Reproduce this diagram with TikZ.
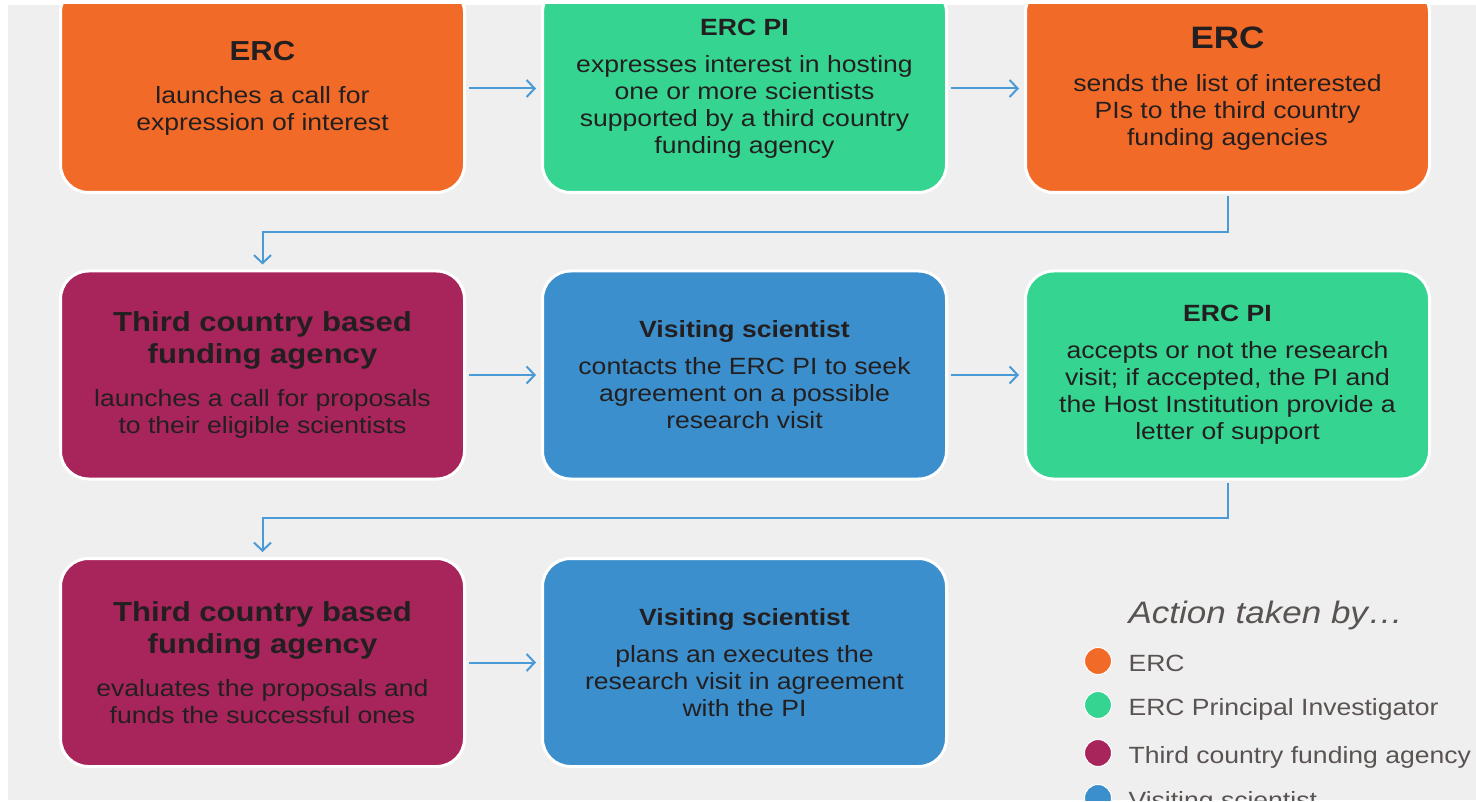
\documentclass[tikz,border=0pt]{standalone}
\usepackage{fontspec}
\setmainfont[FakeStretch=1.13]{Liberation Sans}
\usetikzlibrary{arrows.meta}

\definecolor{ercorange}{HTML}{F26A27}
\definecolor{pigreen}{HTML}{35D491}
\definecolor{agencyred}{HTML}{A8255C}
\definecolor{visitorblue}{HTML}{3B8FCC}
\definecolor{flowblue}{HTML}{4A9AD6}
\definecolor{bggrey}{HTML}{EFEFEF}
\definecolor{inkdark}{HTML}{231F20}
\definecolor{legendgrey}{HTML}{595352}

\newcommand{\fixspace}{\spaceskip=\fontdimen2\font\xspaceskip=\fontdimen2\font\relax}
\newcommand{\hugetitle}[1]{{\fontsize{31}{35}\selectfont\bfseries\fixspace #1\par}\vspace{16pt}}
\newcommand{\bigtitle}[1]{{\fontsize{27.5}{32}\selectfont\bfseries\fixspace #1\par}\vspace{16pt}}
\newcommand{\smalltitle}[1]{{\fontsize{23.5}{27}\selectfont\bfseries\fixspace #1\par}\vspace{10pt}}
\newcommand{\bodytext}[1]{{\fontsize{23.5}{27}\selectfont\fixspace #1\par}}

\begin{document}
\begin{tikzpicture}[x=1pt,y=-1pt,
    stepbox/.style={rounded corners=28pt, draw=white, line width=3pt,
        minimum width=404pt, minimum height=208pt, text width=390pt,
        align=center, inner sep=0pt, text=inkdark, font=\fontsize{23.5}{27}\selectfont},
    flow/.style={draw=flowblue, line width=2pt, -{Straight Barb[length=8pt,width=17pt]},
        shorten <=2.5pt, shorten >=5pt},
    dot/.style={circle, draw=white, line width=1pt, minimum size=27pt, inner sep=0pt},
    legendtext/.style={anchor=base west, text=legendgrey, font=\fontsize{23.5}{27}\selectfont}]

\useasboundingbox (0,0) rectangle (1476,802);
\fill[white] (0,0) rectangle (1476,802);
\fill[bggrey] (8,5) rectangle (1476,800);

\begin{scope}
\clip (8,5) rectangle (1476,800);

	\node[stepbox, fill=ercorange] (erc) at (262.5,88.5)
		{\bigtitle{ERC}\bodytext{launches a call for\\expression of interest}};
	\node[stepbox, fill=pigreen] (pi) at (744.5,88.5)
		{\smalltitle{ERC PI}\bodytext{expresses interest in hosting\\one or more scientists\\supported by a third country\\funding agency}};
	\node[stepbox, fill=ercorange] (ercsend) at (1227.5,88.5)
		{\hugetitle{ERC}\bodytext{sends the list of interested\\PIs to the third country\\funding agencies}};

	\node[stepbox, fill=agencyred] (agency) at (262.5,375)
		{\bigtitle{Third country based\\funding agency}\bodytext{launches a call for proposals\\to their eligible scientists}};
	\node[stepbox, fill=visitorblue] (visitor) at (744.5,375)
		{\smalltitle{Visiting scientist}\bodytext{contacts the ERC PI to seek\\agreement on a possible\\research visit}};
	\node[stepbox, fill=pigreen] (piaccept) at (1227.5,375)
		{\smalltitle{ERC PI}\bodytext{accepts or not the research\\visit; if accepted, the PI and\\the Host Institution provide a\\letter of support}};

	\node[stepbox, fill=agencyred] (agencyeval) at (262.5,662.5)
		{\bigtitle{Third country based\\funding agency}\bodytext{evaluates the proposals and\\funds the successful ones}};
	\node[stepbox, fill=visitorblue] (visitorplan) at (744.5,662.5)
		{\smalltitle{Visiting scientist}\bodytext{plans an executes the\\research visit in agreement\\with the PI}};

	\coordinate (turnone) at (1227.5,232);
	\coordinate (turntwo) at (1227.5,518);

	\draw[flow] (erc) -- (pi);
	\draw[flow] (pi) -- (ercsend);
	\draw[flow, shorten <=2pt] (ercsend) -- (turnone) -| (agency);
	\draw[flow] (agency) -- (visitor);
	\draw[flow] (visitor) -- (piaccept);
	\draw[flow, shorten <=2pt] (piaccept) -- (turntwo) -| (agencyeval);
	\draw[flow] (agencyeval) -- (visitorplan);

	\node[anchor=base west, text=legendgrey, font=\fontsize{31}{35}\selectfont\itshape] (legendtitle) at (1125,623) {Action taken by…};
	\node[dot, fill=ercorange] (legercdot) at (1098,661) {};
	\node[legendtext] (legerc) at (1125,671) {ERC};
	\node[dot, fill=pigreen] (legpidot) at (1098,705) {};
	\node[legendtext] (legpi) at (1125,715) {ERC Principal Investigator};
	\node[dot, fill=agencyred] (legagencydot) at (1098,753) {};
	\node[legendtext] (legagency) at (1125,763) {Third country funding agency};
	\node[dot, fill=visitorblue] (legvisitordot) at (1098,798) {};
	\node[legendtext] (legvisitor) at (1125,808) {Visiting scientist};
\end{scope}

\end{tikzpicture}
\end{document}
